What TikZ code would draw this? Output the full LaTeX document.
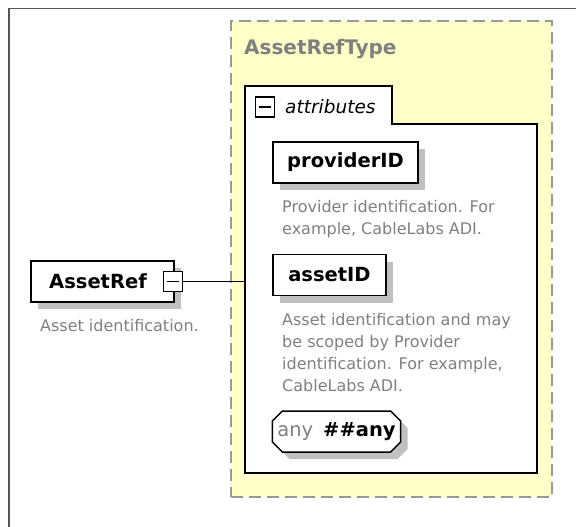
\documentclass[tikz,border=0pt]{standalone}
\usepackage{fontspec}
\setmainfont{DejaVu Sans}
\usetikzlibrary{shadows,shapes.misc}
\definecolor{typefill}{HTML}{FFFFC8}
\definecolor{dashgray}{HTML}{999999}
\definecolor{descgray}{HTML}{808080}
\definecolor{shadegray}{HTML}{C0C0C0}
\definecolor{framegray}{HTML}{555555}
\newcommand{\anyns}[1]{\textcolor{descgray}{\mdseries any}\hspace{10pt}#1}

\tikzset{
  elem/.style={draw, line width=1.5pt, fill=white, minimum height=41pt, inner sep=0pt,
    font=\bfseries\fontsize{19.5}{22}\selectfont,
    drop shadow={shadow xshift=7pt, shadow yshift=-7pt, fill=shadegray, opacity=1}},
  desc/.style={anchor=north west, align=left, inner sep=0pt, text=descgray,
    font=\fontsize{16}{22}\selectfont},
  toggle/.style={draw, line width=1.2pt, fill=white, minimum width=19pt, minimum height=20pt, inner sep=0pt},
}

\begin{document}
\begin{tikzpicture}[x=1pt, y=-1pt]
    \useasboundingbox (0,0) rectangle (576,527);
    \draw[framegray, line width=1.8pt] (9,527) -- (9,8.5) -- (576,8.5);

    % complex type
    \node[draw=dashgray, fill=typefill, line width=1.5pt, dash pattern=on 12pt off 6pt,
      minimum width=321pt, minimum height=476pt] (reftype) at (391.5,259) {};
    \node[anchor=west, inner sep=0pt, text=descgray, font=\bfseries\fontsize{20}{22}\selectfont]
      (typename) at (244,49) {AssetRefType};

    % attribute group
    \draw[fill=white, line width=1.5pt] (245,86) -- (392,86) -- (392,124) -- (537,124)
      -- (537,473) -- (245,473) -- cycle;
    \coordinate (grpin) at (245,281.5);
    \node[toggle] (grptog) at (265,107) {};
    \draw[line width=1.2pt] ([xshift=4pt]grptog.west) -- ([xshift=-4pt]grptog.east);
    \node[anchor=west, inner sep=0pt, font=\itshape\fontsize{18.5}{20}\selectfont]
      (grpname) at (285,107) {attributes};

    \node[elem, minimum width=145pt] (provid) at (345.5,162.5) {providerID};
    \node[desc] (provdesc) at (282,200) {Provider identification. For\\example, CableLabs ADI.};

    \node[elem, minimum width=113pt] (assetid) at (329.5,275) {assetID};
    \node[desc] (assetdesc) at (282,313) {Asset identification and may\\be scoped by Provider\\identification. For example,\\CableLabs ADI.};

    \node[elem, chamfered rectangle, chamfered rectangle xsep=5pt, chamfered rectangle ysep=5pt,
      minimum width=127pt] (anyattr) at (336.5,431.5) {\anyns{\#\#any}};

    % element
    \node[elem, minimum width=143pt] (assetref) at (102.5,281.5) {AssetRef\hspace*{9pt}};
    \node[toggle] (reftog) at (173,281.5) {};
    \draw[line width=1.2pt] ([xshift=4pt]reftog.west) -- ([xshift=-4pt]reftog.east);
    \node[desc] (refdesc) at (40,319) {Asset identification.};

    \draw[line width=1.5pt] (reftog) -- (grpin);
\end{tikzpicture}
\end{document}
